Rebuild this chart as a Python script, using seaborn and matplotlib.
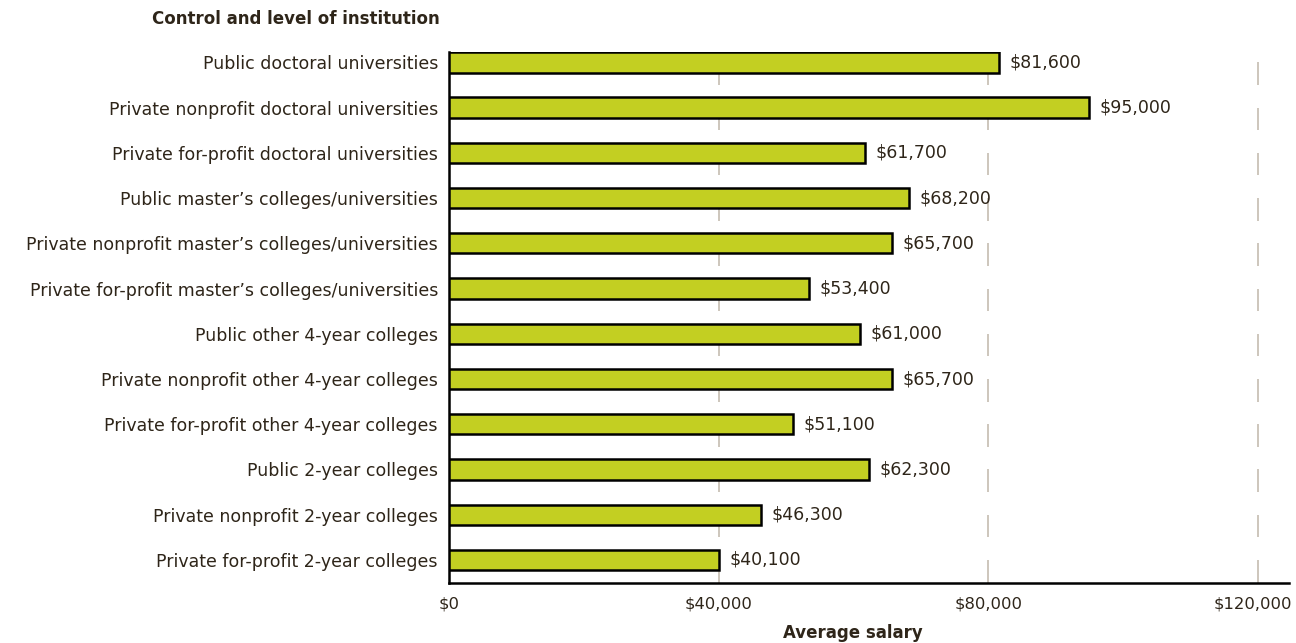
import matplotlib
matplotlib.use("Agg")
import matplotlib.pyplot as plt
import matplotlib.transforms as mtrans
import seaborn as sns
import pandas as pd

categories = [
    "Public doctoral universities",
    "Private nonprofit doctoral universities",
    "Private for-profit doctoral universities",
    "Public master\u2019s colleges/universities",
    "Private nonprofit master\u2019s colleges/universities",
    "Private for-profit master\u2019s colleges/universities",
    "Public other 4-year colleges",
    "Private nonprofit other 4-year colleges",
    "Private for-profit other 4-year colleges",
    "Public 2-year colleges",
    "Private nonprofit 2-year colleges",
    "Private for-profit 2-year colleges",
]
salaries = [81600, 95000, 61700, 68200, 65700, 53400, 61000, 65700, 51100, 62300, 46300, 40100]
xticks = [0, 40000, 80000, 120000]
xtick_labels = ["$0", "$40,000", "$80,000", "$120,000"]

df = pd.DataFrame({"category": categories, "salary": salaries})

sns.set_theme(style="white")
plt.rcParams["font.family"] = ["DejaVu Sans"]

TEXT = "#2e2519"
BAR = "#c3cf22"
GRID = "#c9c2b6"
FS = 12.5

fig = plt.figure(figsize=(12.96, 6.43), dpi=100)
ax = fig.add_axes([449 / 1296, 1 - 583 / 643, (1289 - 449) / 1296, (583 - 52) / 643])

sns.barplot(data=df, x="salary", y="category", orient="h", color=BAR,
            edgecolor="black", linewidth=1.8, width=0.45, saturation=1, ax=ax, zorder=3)

n = len(categories)
for xt in xticks[1:]:
    for i in range(n):
        ax.plot([xt, xt], [i, i + 0.5], color=GRID, lw=1.3, zorder=1, solid_capstyle="butt")

for i, v in enumerate(salaries):
    ax.annotate(f"${v:,}", xy=(v, i), xytext=(7.5, 0), textcoords="offset points",
                ha="left", va="center", fontsize=FS, color=TEXT, zorder=4)

ax.set_xlim(0, 124600)
ax.set_ylim(n - 1 + 0.51, -0.23)
ax.set_xticks(xticks)
ax.set_xticklabels(xtick_labels)
ax.set_xlabel("")
ax.set_ylabel("")
ax.tick_params(axis="x", length=0, pad=10, labelsize=11.8, labelcolor=TEXT)
ax.tick_params(axis="y", length=0, pad=8, labelsize=FS, labelcolor=TEXT)
last = ax.get_xticklabels()[-1]
last.set_transform(last.get_transform() + mtrans.ScaledTranslation(-5 / 100, 0, fig.dpi_scale_trans))
for s in ["top", "right"]:
    ax.spines[s].set_visible(False)
for s in ["left", "bottom"]:
    ax.spines[s].set_color("black")
    ax.spines[s].set_linewidth(1.8)
ax.grid(False)

fig.text(440 / 1296, 1 - 19 / 643, "Control and level of institution", ha="right", va="center",
         fontsize=12, fontweight="bold", color=TEXT)
fig.text(853 / 1296, 1 - 633 / 643, "Average salary", ha="center", va="center",
         fontsize=12, fontweight="bold", color=TEXT)

fig.savefig("out.png", dpi=100)
